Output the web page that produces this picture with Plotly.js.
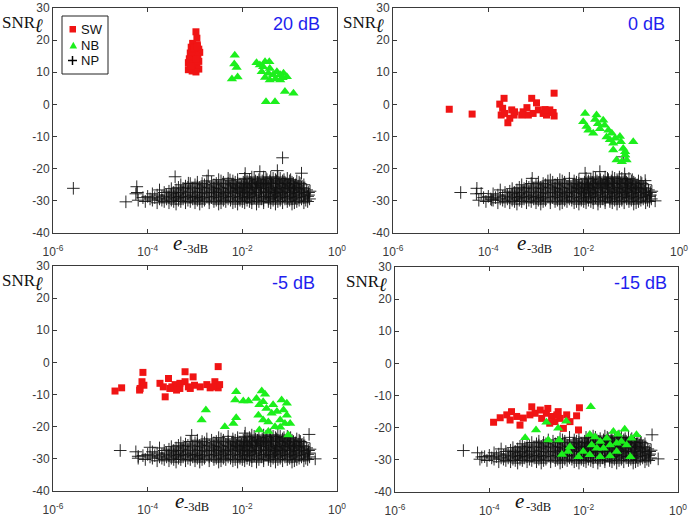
<!DOCTYPE html>
<html>
<head>
<meta charset="utf-8">
<script src="https://cdn.plot.ly/plotly-3.0.1.min.js"></script>
<style>html,body{margin:0;padding:0;background:#fff}</style>
</head>
<body>
<div id="chart" style="width:690px;height:517px"></div>
<script>
// Points are stored as [log10(e_-3dB), SNR_l (dB)].

// Input SNR condition of each panel
const panelTitles = ['20 dB', '0 dB', '-5 dB', '-15 dB'];

// ---- 20 dB ----
const sw20 = [[-2.98,22.6],[-2.96,20.6],[-3.05,19.0],[-2.95,18.5],[-3.08,17.8],[-2.92,17.2],[-3.02,16.8],
  [-2.90,16.2],[-3.10,16.0],[-2.98,15.5],[-3.06,15.0],[-2.94,14.6],[-3.12,14.2],[-3.00,13.8],[-2.92,13.4],
  [-3.14,13.0],[-3.04,12.6],[-2.96,12.2],[-3.10,11.8],[-3.00,11.4],[-2.92,11.0],[-3.14,10.8],[-3.06,10.4],
  [-2.98,10.1],[-3.02,17.5],[-2.97,14.0],[-3.08,12.0],[-2.95,18.0]];
const nb20 = [[-2.16,15.3],[-2.17,12.6],[-2.12,11.5],[-2.22,7.9],[-2.10,8.5],[-1.70,13.0],[-1.52,13.3],
  [-1.43,13.3],[-1.56,11.7],[-1.42,11.2],[-1.27,10.2],[-1.13,9.7],[-1.06,8.6],[-1.52,8.4],[-1.42,7.6],
  [-1.20,7.6],[-1.35,9.2],[-1.10,4.0],[-0.92,3.5],[-1.50,0.85],[-1.31,0.85],[-1.63,12.3],[-1.20,9.2],
  [-1.45,9.7],[-1.59,10.2],[-1.30,8.0],[-1.15,8.3]];
const np20 = [[-5.57,-26.1],[-4.46,-30.3],[-4.23,-25.6],[-4.22,-27.4],[-3.42,-22.5],[-2.72,-22.2],
  [-1.15,-16.6],[-1.94,-21.5],[-1.63,-20.9],[-1.26,-20.6],[-0.75,-21.4],[-2.26,-23.5],[-3.14,-24.5]];

// ---- 0 dB ----
const sw0 = [[-4.82,-1.5],[-4.34,-3.0],[-3.76,0.1],[-3.67,1.9],[-3.70,-1.2],[-3.73,-3.3],[-3.66,-2.8],
  [-3.51,-1.7],[-3.46,-3.3],[-3.59,-5.7],[-3.55,-4.3],[-3.45,-2.3],[-3.27,-2.3],[-3.19,-1.0],[-3.09,1.9],
  [-2.99,0.5],[-3.16,-3.3],[-3.06,-2.8],[-2.95,-1.7],[-2.85,-2.8],[-2.78,-3.3],[-2.71,-1.7],[-2.64,-2.5],
  [-2.62,3.5],[-2.62,-3.6],[-2.81,-1.6],[-3.30,-3.3]];
const nb0 = [[-1.97,-2.8],[-1.76,-4.7],[-2.01,-5.4],[-1.94,-6.9],[-1.90,-8.0],[-1.59,-4.9],[-1.56,-6.5],
  [-1.66,-7.6],[-1.48,-8.0],[-1.41,-9.0],[-1.52,-10.1],[-1.34,-10.5],[-1.24,-10.0],[-1.38,-12.1],
  [-1.22,-11.6],[-1.17,-13.7],[-1.38,-14.2],[-1.13,-14.7],[-0.96,-11.6],[-1.31,-17.3],[-1.20,-17.8],
  [-1.10,-17.3],[-1.13,-15.7],[-1.80,-9.0],[-1.70,-6.0],[-1.45,-11.0],[-1.73,-3.3]];
const np0 = [[-4.58,-27.4],[-4.24,-26.1],[-4.15,-27.7],[-3.93,-29.7],[-3.08,-23.0],[-2.70,-23.5],
  [-1.97,-21.4],[-1.66,-20.9],[-1.14,-21.6],[-1.17,-16.3],[-0.50,-30.0],[-0.71,-23.7]];

// ---- -5 dB ----
const sw5 = [[-4.69,-8.9],[-4.55,-7.9],[-4.10,-3.1],[-4.12,-6.0],[-4.16,-8.1],[-4.17,-8.6],[-4.08,-7.1],
  [-3.74,-6.5],[-3.56,-5.0],[-3.63,-10.7],[-3.67,-7.6],[-3.49,-7.6],[-3.42,-6.9],[-3.32,-6.5],[-3.21,-2.9],
  [-3.21,-6.0],[-3.14,-7.6],[-3.04,-4.5],[-3.01,-7.1],[-2.89,-7.6],[-3.32,-8.1],[-3.53,-8.1],[-2.75,-6.9],
  [-2.68,-7.9],[-2.58,-6.0],[-2.51,-1.3],[-2.51,-7.9],[-2.61,-7.6],[-3.10,-8.1],[-3.39,-8.6],[-2.48,-6.9]];
const nb5 = [[-2.13,-9.1],[-2.15,-11.7],[-1.98,-12.0],[-1.87,-12.0],[-1.59,-8.9],[-1.70,-11.2],[-1.64,-13.2],
  [-1.56,-12.2],[-1.49,-14.3],[-1.17,-11.7],[-1.35,-13.2],[-1.27,-15.3],[-1.38,-15.8],[-1.13,-14.8],
  [-1.06,-16.4],[-1.66,-16.4],[-1.56,-17.9],[-1.45,-18.5],[-1.20,-17.9],[-1.10,-19.0],[-0.99,-19.0],
  [-1.31,-20.0],[-1.20,-20.2],[-2.77,-14.8],[-2.86,-17.9],[-2.13,-17.2],[-2.19,-19.0],[-2.37,-20.0],
  [-1.64,-21.0],[-1.45,-21.5],[-1.03,-22.6],[-1.06,-12.7],[-1.52,-9.9]];
const np5 = [[-4.58,-27.4],[-4.20,-29.2],[-3.95,-26.4],[-3.07,-22.7],[-1.94,-22.0],[-0.78,-24.6],
  [-0.46,-30.0],[-0.59,-22.4]];

// ---- -15 dB ----
const sw15 = [[-3.91,-18.3],[-3.77,-16.9],[-3.63,-16.0],[-3.53,-15.0],[-3.56,-17.6],[-3.42,-16.5],
  [-3.35,-19.2],[-3.28,-17.0],[-3.10,-13.5],[-3.03,-15.5],[-2.92,-14.5],[-2.89,-17.1],[-2.79,-15.5],
  [-2.76,-14.0],[-2.68,-16.5],[-2.61,-18.1],[-2.54,-15.0],[-2.50,-17.1],[-2.36,-16.0],[-2.29,-18.1],
  [-2.15,-16.3],[-2.09,-13.8],[-2.11,-20.7],[-2.43,-20.2],[-3.14,-16.0],[-2.72,-18.6],[-2.57,-16.0]];
const nb15 = [[-1.85,-13.5],[-2.79,-18.3],[-3.01,-20.7],[-2.54,-20.2],[-3.24,-23.1],[-2.75,-23.8],
  [-2.52,-23.8],[-1.87,-22.1],[-1.76,-22.9],[-1.65,-24.3],[-1.83,-25.4],[-1.58,-26.4],[-1.37,-21.2],
  [-1.27,-22.0],[-1.20,-24.3],[-1.09,-25.4],[-0.99,-23.3],[-1.13,-20.5],[-1.30,-24.8],[-1.44,-25.4],
  [-1.72,-26.4],[-2.29,-25.9],[-2.33,-27.4],[-2.46,-28.3],[-2.11,-29.0],[-1.87,-28.4],[-1.65,-29.0],
  [-1.44,-28.8],[-1.30,-27.4],[-1.01,-29.0],[-2.01,-27.4],[-1.51,-23.3],[-0.88,-22.2],[-2.37,-18.0]];
const np15 = [[-4.55,-27.1],[-4.16,-29.1],[-0.42,-29.7],[-0.55,-22.2]];

// NP main cloud (common to all panels), read band by band: SNR level -> log10(e) positions
const npBandSNR = [-31.0,-30.6,-30.2,-29.8,-29.4,-29.0,-28.6,-28.2,-27.8,-27.4,-27.0,-26.6,-26.2,
  -25.8,-25.4,-25.0,-24.6,-24.2,-23.8,-23.4,-23.0,-22.6];
const npBandLogE = [
  [-3.4,-2.9,-2.5,-2.1,-1.7,-1.3,-0.95],
  [-3.8,-3.55,-3.2,-3.0,-2.7,-2.45,-2.2,-1.95,-1.8,-1.55,-1.4,-1.15,-0.9,-0.7],
  [-4.05,-3.65,-3.45,-3.3,-3.1,-2.85,-2.6,-2.35,-2.15,-2.0,-1.85,-1.65,-1.45,-1.25,-1.05,-0.85,-0.62],
  [-4.2,-3.9,-3.7,-3.5,-3.35,-3.15,-2.95,-2.8,-2.55,-2.4,-2.25,-2.05,-1.9,-1.7,-1.55,-1.35,-1.2,-1.0,-0.8,-0.66],
  [-3.95,-3.75,-3.6,-3.4,-3.25,-3.05,-2.9,-2.7,-2.5,-2.3,-2.1,-1.95,-1.8,-1.6,-1.45,-1.3,-1.1,-0.95,-0.75,-0.58],
  [-4.1,-3.85,-3.55,-3.35,-3.2,-3.0,-2.85,-2.65,-2.45,-2.25,-2.05,-1.9,-1.75,-1.55,-1.4,-1.2,-1.05,-0.88,-0.7],
  [-4.0,-3.7,-3.45,-3.3,-3.1,-2.95,-2.75,-2.55,-2.35,-2.2,-2.0,-1.85,-1.65,-1.5,-1.35,-1.15,-0.98,-0.8,-0.62],
  [-3.8,-3.6,-3.4,-3.2,-3.05,-2.85,-2.6,-2.45,-2.3,-2.1,-1.95,-1.75,-1.6,-1.42,-1.25,-1.1,-0.92,-0.75,-0.6],
  [-4.25,-3.9,-3.5,-3.35,-3.15,-2.9,-2.7,-2.5,-2.35,-2.15,-2.0,-1.85,-1.7,-1.5,-1.32,-1.18,-1.0,-0.85,-0.68],
  [-3.65,-3.45,-3.25,-3.0,-2.8,-2.6,-2.4,-2.25,-2.05,-1.9,-1.78,-1.6,-1.45,-1.28,-1.12,-0.95,-0.78,-0.6],
  [-3.55,-3.3,-3.1,-2.9,-2.65,-2.5,-2.3,-2.15,-1.98,-1.82,-1.65,-1.5,-1.35,-1.2,-1.05,-0.9,-0.72,-0.57],
  [-3.75,-3.4,-3.2,-2.95,-2.75,-2.55,-2.4,-2.2,-2.05,-1.88,-1.72,-1.55,-1.4,-1.25,-1.08,-0.92,-0.8,-0.64],
  [-3.5,-3.25,-3.05,-2.85,-2.6,-2.45,-2.25,-2.1,-1.95,-1.8,-1.62,-1.48,-1.3,-1.15,-1.0,-0.85,-0.7],
  [-3.35,-3.15,-2.9,-2.7,-2.5,-2.3,-2.12,-1.98,-1.85,-1.7,-1.55,-1.38,-1.22,-1.05,-0.9,-0.75],
  [-3.2,-2.95,-2.75,-2.55,-2.35,-2.18,-2.02,-1.9,-1.75,-1.6,-1.45,-1.3,-1.12,-0.98,-0.82],
  [-3.3,-3.0,-2.8,-2.6,-2.4,-2.22,-2.05,-1.92,-1.78,-1.62,-1.5,-1.35,-1.18,-1.02,-0.88,-0.7],
  [-3.1,-2.85,-2.55,-2.3,-2.1,-1.95,-1.8,-1.65,-1.52,-1.38,-1.22,-1.08,-0.92,-0.78],
  [-2.95,-2.65,-2.4,-2.15,-1.98,-1.82,-1.68,-1.55,-1.4,-1.25,-1.1,-0.95,-0.8],
  [-2.75,-2.45,-2.2,-1.9,-1.72,-1.58,-1.42,-1.28,-1.15,-1.0,-0.85],
  [-2.5,-2.1,-1.85,-1.65,-1.48,-1.3,-1.12,-0.98],
  [-2.3,-1.95,-1.75,-1.5,-1.35,-1.2,-1.05],
  [-1.8,-1.55,-1.4,-1.25]
];

// Axis ticks
const xTickVals = [1e-6, 1e-4, 1e-2, 1];
const xTickText = ['10<sup>-6</sup>', '10<sup>-4</sup>', '10<sup>-2</sup>', '10<sup>0</sup>'];
const yTickVals = [-40, -30, -20, -10, 0, 10, 20, 30];
const yTickText = ['-40', '-30', '-20', '-10', '0', '10', '20', '30'];

const npCore = [];
npBandSNR.forEach((s, i) => npBandLogE[i].forEach(e => npCore.push([e, s])));

const panelData = [
  { sw: sw20, nb: nb20, np: np20 },
  { sw: sw0,  nb: nb0,  np: np0 },
  { sw: sw5,  nb: nb5,  np: np5 },
  { sw: sw15, nb: nb15, np: np15 }
];

const W = 690, H = 517;
const px = v => v / W;
const py = v => 1 - v / H;

// Plot boxes in pixels [left, right], [top, bottom]
const boxes = [
  { x: [53, 337], y: [8, 233] },
  { x: [393, 679], y: [8, 233] },
  { x: [53, 337], y: [266, 491] },
  { x: [395, 678], y: [267, 492] }
];

const toXY = list => ({ x: list.map(p => Math.pow(10, p[0])), y: list.map(p => p[1]) });

const red = '#f01414', green = '#1cef1c';

const traces = [];
panelData.forEach((d, i) => {
  const xa = i === 0 ? 'x' : 'x' + (i + 1);
  const ya = i === 0 ? 'y' : 'y' + (i + 1);
  const np = toXY(npCore.concat(d.np));
  const sw = toXY(d.sw);
  const nb = toXY(d.nb);
  traces.push({
    type: 'scatter', mode: 'markers', name: 'NP', xaxis: xa, yaxis: ya, showlegend: false,
    x: np.x, y: np.y,
    marker: { symbol: 'cross-thin-open', size: 9, color: '#111', line: { color: '#111', width: 0.9 } }
  });
  traces.push({
    type: 'scatter', mode: 'markers', name: 'SW', xaxis: xa, yaxis: ya, showlegend: false,
    x: sw.x, y: sw.y,
    marker: { symbol: 'square', size: 7, color: red, line: { width: 0 } }
  });
  traces.push({
    type: 'scatter', mode: 'markers', name: 'NB', xaxis: xa, yaxis: ya, showlegend: false,
    x: nb.x, y: nb.y,
    marker: { symbol: 'triangle-up', size: 9, color: green, line: { width: 0 } }
  });
});

const tickFont = { family: 'Liberation Sans, Arial, sans-serif', size: 12, color: '#3a3a3a' };
const axisCommon = {
  showline: true, linecolor: '#3a3a3a', linewidth: 1, mirror: 'ticks',
  ticks: 'inside', ticklen: 4, tickcolor: '#3a3a3a', tickwidth: 1,
  showgrid: false, zeroline: false, tickfont: tickFont, tickmode: 'array', fixedrange: true
};

const layout = {
  width: W, height: H,
  margin: { l: 0, r: 0, t: 0, b: 0 },
  paper_bgcolor: '#fff', plot_bgcolor: '#fff',
  showlegend: false,
  annotations: [], shapes: []
};

boxes.forEach((b, i) => {
  const sfx = i === 0 ? '' : String(i + 1);
  layout['xaxis' + sfx] = Object.assign({}, axisCommon, {
    type: 'log', range: [-6, 0], domain: [px(b.x[0]), px(b.x[1])],
    anchor: 'y' + sfx, tickvals: xTickVals, ticktext: xTickText, ticklabelstandoff: 8
  });
  layout['yaxis' + sfx] = Object.assign({}, axisCommon, {
    range: [-40, 30], domain: [py(b.y[1]), py(b.y[0])],
    anchor: 'x' + sfx, tickvals: yTickVals, ticktext: yTickText
  });
});

const ann = (text, x, y, font, xanchor, yanchor) => ({
  text, xref: 'paper', yref: 'paper', x: px(x), y: py(y), showarrow: false,
  xanchor: xanchor || 'left', yanchor: yanchor || 'middle', font, borderpad: 0
});

const serif = 'Liberation Serif, Times New Roman, serif';
const sans = 'Liberation Sans, Arial, sans-serif';
const titleFont = { family: sans, size: 18, color: '#1e1eee' };

const snrLabel = 'SNR<sub><span style="font-size:19px"><b><i>ℓ</i></b></span></sub>';

// Panel labels: [title right edge, title middle, SNR left, SNR top, e left, e middle, sub left, sub middle]
const labelPos = [
  [321, 24, 1, 11.5, 172, 242.5, 182, 249],
  [666, 24, 342, 11.5, 516, 242.5, 526, 249],
  [316, 283, 1, 270, 174, 500.5, 183, 507],
  [668, 283, 345, 270.5, 514, 500.5, 525, 507]
];
labelPos.forEach((p, i) => {
  layout.annotations.push(ann(panelTitles[i], p[0], p[1], titleFont, 'right'));
  layout.annotations.push(ann(snrLabel, p[2], p[3], { family: serif, size: 17, color: '#111' }, 'left', 'top'));
  layout.annotations.push(ann('<i>e</i>', p[4], p[5], { family: serif, size: 21, color: '#111' }));
  layout.annotations.push(ann('-3dB', p[6], p[7], { family: serif, size: 12.5, color: '#111' }));
});

// Legend (first panel)
const legFont = { family: sans, size: 13, color: '#111' };
layout.shapes.push({ type: 'rect', xref: 'paper', yref: 'paper', x0: px(62), x1: px(108), y0: py(74), y1: py(16),
  line: { color: '#222', width: 1 }, fillcolor: '#fff', layer: 'above' });
layout.shapes.push({ type: 'rect', xref: 'paper', yref: 'paper', x0: px(69.5), x1: px(76), y0: py(32.5), y1: py(26),
  line: { width: 0 }, fillcolor: red });
layout.shapes.push({ type: 'path', xref: 'paper', yref: 'paper',
  path: 'M' + px(69.5) + ',' + py(48.5) + ' L' + px(77.1) + ',' + py(48.5) + ' L' + px(73.3) + ',' + py(41.8) + ' Z',
  line: { width: 0 }, fillcolor: green });
layout.shapes.push({ type: 'line', xref: 'paper', yref: 'paper', x0: px(68), x1: px(77), y0: py(60.5), y1: py(60.5),
  line: { color: '#000', width: 1.5 } });
layout.shapes.push({ type: 'line', xref: 'paper', yref: 'paper', x0: px(72.5), x1: px(72.5), y0: py(56), y1: py(65),
  line: { color: '#000', width: 1.5 } });
layout.annotations.push(ann('SW', 80, 29.5, legFont));
layout.annotations.push(ann('NB', 80, 45.5, legFont));
layout.annotations.push(ann('NP', 80, 61, legFont));

Plotly.newPlot('chart', traces, layout, { staticPlot: true, displayModeBar: false });
</script>
</body>
</html>
